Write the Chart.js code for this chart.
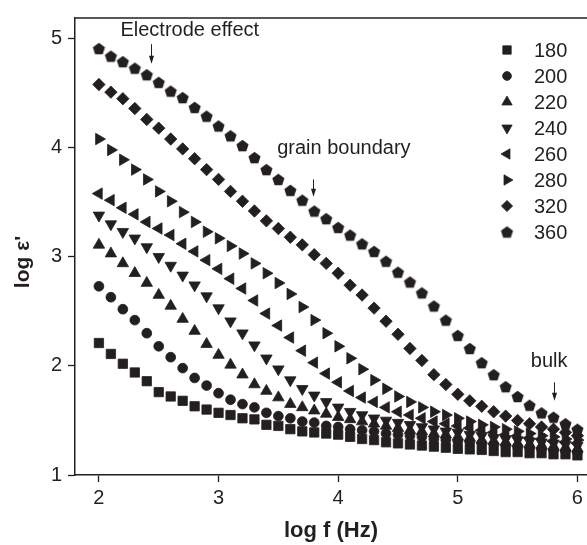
<!DOCTYPE html>
<html lang="en">
<head>
<meta charset="UTF-8">
<title>log ε' vs log f</title>
<script src="https://cdn.jsdelivr.net/npm/chart.js"></script>
<style>
  html, body { margin: 0; padding: 0; background: #fff; }
</style>
</head>
<body>
<canvas id="epsChart" width="587" height="545"></canvas>
<script>
// x positions (log f), one point every 0.1 decade
const logF = [2.0, 2.1, 2.2, 2.3, 2.4, 2.5, 2.6, 2.7, 2.8, 2.9,
              3.0, 3.1, 3.2, 3.3, 3.4, 3.5, 3.6, 3.7, 3.8, 3.9,
              4.0, 4.1, 4.2, 4.3, 4.4, 4.5, 4.6, 4.7, 4.8, 4.9,
              5.0, 5.1, 5.2, 5.3, 5.4, 5.5, 5.6, 5.7, 5.8, 5.9, 6.0];

const temps = ['180', '200', '220', '240', '260', '280', '320', '360'];

// log eps'
const eps180 = [2.21, 2.11, 2.02, 1.94, 1.86, 1.76, 1.72, 1.68, 1.63, 1.60,
                1.57, 1.55, 1.52, 1.51, 1.46, 1.45, 1.42, 1.40, 1.39, 1.38,
                1.37, 1.35, 1.33, 1.32, 1.30, 1.29, 1.28, 1.27, 1.26, 1.25,
                1.24, 1.235, 1.23, 1.22, 1.21, 1.21, 1.20, 1.20, 1.19, 1.19, 1.18];
const eps200 = [2.73, 2.63, 2.52, 2.42, 2.30, 2.18, 2.08, 1.98, 1.89, 1.82,
                1.75, 1.69, 1.65, 1.62, 1.57, 1.54, 1.52, 1.49, 1.48, 1.45,
                1.44, 1.42, 1.41, 1.40, 1.38, 1.37, 1.36, 1.35, 1.33, 1.32,
                1.31, 1.30, 1.29, 1.28, 1.27, 1.26, 1.25, 1.24, 1.23, 1.22, 1.21];
const eps220 = [3.11, 3.03, 2.94, 2.85, 2.76, 2.65, 2.55, 2.43, 2.32, 2.20,
                2.10, 2.01, 1.92, 1.83, 1.77, 1.71, 1.65, 1.62, 1.59, 1.56,
                1.53, 1.51, 1.49, 1.47, 1.45, 1.43, 1.41, 1.40, 1.38, 1.37,
                1.35, 1.34, 1.32, 1.31, 1.30, 1.29, 1.28, 1.27, 1.26, 1.25, 1.24];
const eps240 = [3.38, 3.30, 3.23, 3.17, 3.09, 3.00, 2.92, 2.83, 2.74, 2.64,
                2.53, 2.41, 2.30, 2.19, 2.07, 1.97, 1.87, 1.79, 1.73, 1.67,
                1.62, 1.58, 1.55, 1.52, 1.50, 1.48, 1.46, 1.44, 1.42, 1.40,
                1.39, 1.37, 1.36, 1.34, 1.33, 1.32, 1.31, 1.30, 1.29, 1.28, 1.27];
const eps260 = [3.58, 3.52, 3.45, 3.39, 3.32, 3.26, 3.20, 3.12, 3.05, 2.97,
                2.89, 2.80, 2.71, 2.60, 2.48, 2.37, 2.26, 2.14, 2.03, 1.93,
                1.85, 1.77, 1.71, 1.67, 1.62, 1.58, 1.55, 1.52, 1.49, 1.47,
                1.45, 1.43, 1.41, 1.39, 1.37, 1.36, 1.34, 1.33, 1.31, 1.30, 1.29];
const eps280 = [4.08, 3.98, 3.89, 3.80, 3.71, 3.60, 3.51, 3.41, 3.32, 3.23,
                3.17, 3.10, 3.03, 2.94, 2.85, 2.76, 2.66, 2.54, 2.42, 2.30,
                2.18, 2.07, 1.97, 1.87, 1.79, 1.72, 1.67, 1.62, 1.58, 1.55,
                1.52, 1.49, 1.46, 1.44, 1.42, 1.40, 1.38, 1.36, 1.35, 1.33, 1.32];
const eps320 = [4.58, 4.51, 4.45, 4.36, 4.26, 4.18, 4.08, 3.99, 3.90, 3.80,
                3.71, 3.60, 3.51, 3.42, 3.33, 3.26, 3.18, 3.11, 3.02, 2.94,
                2.85, 2.74, 2.65, 2.53, 2.41, 2.29, 2.16, 2.05, 1.92, 1.83,
                1.74, 1.68, 1.63, 1.58, 1.54, 1.50, 1.47, 1.44, 1.42, 1.39, 1.36];
const eps360 = [4.91, 4.84, 4.79, 4.73, 4.67, 4.60, 4.52, 4.46, 4.37, 4.29,
                4.20, 4.11, 4.02, 3.91, 3.80, 3.71, 3.61, 3.52, 3.42, 3.35,
                3.27, 3.20, 3.12, 3.05, 2.96, 2.86, 2.77, 2.67, 2.55, 2.42,
                2.28, 2.16, 2.03, 1.92, 1.81, 1.72, 1.64, 1.57, 1.53, 1.47, 1.42];

const xTicks = [2, 3, 4, 5, 6];
const yTicks = [1, 2, 3, 4, 5];

const ink = '#231f20';
const fontFamily = "'Liberation Sans', Arial, Helvetica, sans-serif";

// Chart.js has no pentagon, so make one as a small canvas image
function makePentagon(r) {
    const s = Math.ceil(r * 2) + 2;
    const c = document.createElement('canvas');
    c.width = s;
    c.height = s;
    const g = c.getContext('2d');
    g.fillStyle = ink;
    g.beginPath();
    for (let i = 0; i < 5; i++) {
        const a = -Math.PI / 2 + i * 2 * Math.PI / 5;
        const px = s / 2 + r * Math.cos(a);
        const py = s / 2 + 0.1 * r + r * Math.sin(a);
        if (i === 0) g.moveTo(px, py); else g.lineTo(px, py);
    }
    g.closePath();
    g.fill();
    return c;
}

const pentagon = makePentagon(6.4);

const series = [eps180, eps200, eps220, eps240, eps260, eps280, eps320, eps360];
const styles = [
    { pointStyle: 'rect', rotation: 0, radius: 6.6 },
    { pointStyle: 'circle', rotation: 0, radius: 4.9 },
    { pointStyle: 'triangle', rotation: 0, radius: 6.6 },
    { pointStyle: 'triangle', rotation: 180, radius: 6.6 },
    { pointStyle: 'triangle', rotation: 270, radius: 6.6 },
    { pointStyle: 'triangle', rotation: 90, radius: 6.6 },
    { pointStyle: 'rectRot', rotation: 0, radius: 6.2 },
    { pointStyle: pentagon, rotation: 0, radius: 6 }
];

const datasets = series.map((vals, i) => ({
    label: temps[i],
    data: vals.map((v, j) => ({ x: logF[j], y: v })),
    showLine: false,
    pointStyle: styles[i].pointStyle,
    pointRotation: styles[i].rotation,
    pointRadius: styles[i].radius,
    pointHoverRadius: styles[i].radius,
    pointBackgroundColor: ink,
    pointBorderColor: ink,
    pointBorderWidth: 0.8
}));

// legend sits inside the plot, top right
const insideLegend = {
    id: 'insideLegend',
    afterDraw(chart) {
        const ctx = chart.ctx;
        const area = chart.chartArea;
        const drawPoint = Chart.helpers && Chart.helpers.drawPoint;
        ctx.save();
        ctx.font = '20px ' + fontFamily;
        ctx.textBaseline = 'middle';
        ctx.textAlign = 'left';
        datasets.forEach((ds, i) => {
            const mx = area.left + 432;
            const my = area.top + 32 + i * 26;
            ctx.fillStyle = ink;
            ctx.strokeStyle = ink;
            ctx.lineWidth = 0.8;
            if (drawPoint) {
                drawPoint(ctx, {
                    pointStyle: styles[i].pointStyle,
                    rotation: styles[i].rotation,
                    radius: styles[i].radius * 0.9,
                    borderWidth: 0.8
                }, mx, my);
            }
            ctx.fillStyle = ink;
            ctx.fillText(ds.label, mx + 27, my + 1);
        });
        ctx.restore();
    }
};

// notes and arrows, placed in data coordinates
const notes = [
    { text: 'Electrode effect', x: 2.18, y: 5.075, ax: 2.435, ay1: 4.95, ay2: 4.77 },
    { text: 'grain boundary', x: 3.49, y: 3.99, ax: 3.79, ay1: 3.71, ay2: 3.55 },
    { text: 'bulk', x: 5.61, y: 2.04, ax: 5.805, ay1: 1.85, ay2: 1.68 }
];

const annotations = {
    id: 'annotations',
    afterDraw(chart) {
        const ctx = chart.ctx;
        const xs = chart.scales.x;
        const ys = chart.scales.y;
        const area = chart.chartArea;
        ctx.save();
        // top frame line
        ctx.strokeStyle = ink;
        ctx.lineWidth = 1.5;
        ctx.beginPath();
        ctx.moveTo(area.left, area.top);
        ctx.lineTo(area.right, area.top);
        ctx.stroke();

        ctx.font = '20px ' + fontFamily;
        ctx.textBaseline = 'middle';
        ctx.textAlign = 'left';
        ctx.fillStyle = ink;
        notes.forEach(n => {
            ctx.fillText(n.text, xs.getPixelForValue(n.x), ys.getPixelForValue(n.y));
            const ax = Math.round(xs.getPixelForValue(n.ax)) + 0.5;
            const y1 = ys.getPixelForValue(n.ay1);
            const y2 = ys.getPixelForValue(n.ay2);
            ctx.lineWidth = 1;
            ctx.beginPath();
            ctx.moveTo(ax, y1);
            ctx.lineTo(ax, y2 - 5);
            ctx.stroke();
            ctx.beginPath();
            ctx.moveTo(ax - 2.5, y2 - 8);
            ctx.lineTo(ax + 2.5, y2 - 8);
            ctx.lineTo(ax, y2);
            ctx.closePath();
            ctx.fill();
        });

        // y axis title, rotated
        ctx.translate(23, 262);
        ctx.rotate(-Math.PI / 2);
        ctx.textAlign = 'center';
        ctx.font = 'bold 21px ' + fontFamily;
        ctx.fillText("log ε'", 0, 0);
        ctx.restore();
    }
};

const ctx = document.getElementById('epsChart').getContext('2d');
new Chart(ctx, {
    type: 'scatter',
    data: { datasets: datasets },
    options: {
        responsive: false,
        animation: false,
        devicePixelRatio: 1,
        layout: { padding: { top: 14, left: 0, right: 0, bottom: 0 }, autoPadding: false },
        plugins: {
            legend: { display: false },
            tooltip: { enabled: false }
        },
        scales: {
            x: {
                type: 'linear',
                min: 1.8,
                max: 6.08,
                afterBuildTicks: scale => { scale.ticks = xTicks.map(v => ({ value: v })); },
                afterFit: scale => { scale.height = 70; },
                grid: { drawOnChartArea: false, drawTicks: true, tickLength: 7, tickWidth: 1.3, color: ink },
                border: { display: true, color: ink, width: 1.5 },
                ticks: {
                    color: ink,
                    padding: 4,
                    maxRotation: 0,
                    font: { family: fontFamily, size: 20 }
                },
                title: {
                    display: true,
                    text: 'log f (Hz)',
                    color: ink,
                    padding: { top: 0, bottom: 1 },
                    font: { family: fontFamily, size: 22, weight: 'bold' }
                }
            },
            y: {
                type: 'linear',
                min: 1,
                max: 5.19,
                afterBuildTicks: scale => { scale.ticks = yTicks.map(v => ({ value: v })); },
                afterFit: scale => { scale.width = 75; },
                grid: { drawOnChartArea: false, drawTicks: true, tickLength: 7, tickWidth: 1.3, color: ink },
                border: { display: true, color: ink, width: 1.5 },
                ticks: {
                    color: ink,
                    padding: 6,
                    font: { family: fontFamily, size: 20 }
                },
                title: { display: false }
            }
        }
    },
    plugins: [insideLegend, annotations]
});
</script>
</body>
</html>
